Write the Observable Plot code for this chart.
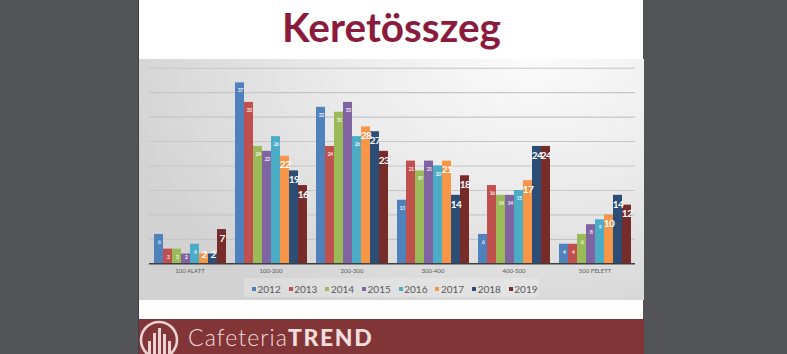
<!DOCTYPE html>
<html>
<head>
<meta charset="utf-8">
<script src="https://cdn.jsdelivr.net/npm/d3@7"></script>
<script src="https://cdn.jsdelivr.net/npm/@observablehq/plot@0.6"></script>
<style>
  html, body { margin: 0; padding: 0; }
  body { width: 787px; height: 354px; position: relative; overflow: hidden; background: #525457; font-family: Lato, "Open Sans", sans-serif; }
  #slide { position: absolute; left: 138px; top: 0; width: 505px; height: 354px; background: #ffffff; border-left: 1px solid #3e4042; box-sizing: border-box; }
  #title { position: absolute; left: 0; top: 5px; width: 505px; text-align: center; font-family: Lato, sans-serif; font-weight: 700; font-size: 40.5px; line-height: 44px; color: #8a1b3d; }
  #box { position: absolute; left: 0; top: 59px; width: 505px; height: 241px;
         background: radial-gradient(ellipse 85% 120% at 78% 0%, #fbfbfb 0%, #ebebeb 45%, #d2d2d2 100%); }
  #chart { position: absolute; left: 0; top: 0; }
  #chart svg g[aria-label="text"] text { letter-spacing: -0.6px; }
  #legend { position: absolute; left: 113px; top: 224px; height: 12px; display: flex; font-family: Lato, sans-serif; font-size: 10px; color: #595959; line-height: 12px; }
  #legend .item { width: 36.7px; display: flex; align-items: center; }
  #legend .sw { width: 4px; height: 4px; margin-right: 1.5px; }
  #legendbg { position: absolute; left: 105px; top: 219px; width: 295px; height: 19px; background: rgba(255,255,255,0.22); }
  #footer { position: absolute; left: 0; top: 319px; width: 505px; height: 35px; background: #813537; }
  #brand { position: absolute; left: 49px; top: 4px; color: #f2dcdc; font-size: 23px; line-height: 28px; white-space: nowrap; }
  #brand .l { font-weight: 300; letter-spacing: 1.1px; }
  #brand .b { font-weight: 900; letter-spacing: 1.6px; }
</style>
</head>
<body>
<div id="slide">
  <div id="title">Keretösszeg</div>
  <div id="box">
    <div id="legendbg"></div>
    <div id="chart"></div>
    <div id="legend"></div>
  </div>
  <div id="footer">
    <svg width="46" height="35" style="position:absolute;left:0;top:0">
      <circle cx="20" cy="21" r="18" fill="none" stroke="#ead2d2" stroke-width="2.6"/>
      <g fill="#ead2d2">
        <rect x="9" y="22" width="3" height="13"/>
        <rect x="14" y="14" width="3" height="21"/>
        <rect x="19" y="9" width="3" height="26"/>
        <rect x="24" y="15" width="3" height="20"/>
        <rect x="29" y="22" width="3" height="13"/>
      </g>
    </svg>
    <div id="brand"><span class="l">Cafeteria</span><span class="b">TREND</span></div>
  </div>
</div>
<script>
// ---- data ----
const categories = ["100 ALATT", "100-200", "200-300", "300-400", "400-500", "500 FELETT"];
const years = ["2012", "2013", "2014", "2015", "2016", "2017", "2018", "2019"];
const colors = ["#4F81BD", "#C0504D", "#9BBB59", "#8064A2", "#4BACC6", "#F79646", "#2C4D75", "#772C2A"];
const v2012 = [6, 37, 32, 13, 6, 4];
const v2013 = [3, 33, 24, 21, 16, 4];
const v2014 = [3, 24, 31, 19, 14, 6];
const v2015 = [2, 23, 33, 21, 14, 8];
const v2016 = [4, 26, 26, 20, 15, 9];
const v2017 = [2, 22, 28, 21, 17, 10];
const v2018 = [2, 19, 27, 14, 24, 14];
const v2019 = [7, 16, 23, 18, 24, 12];
const bigLabelYears = ["2017", "2018", "2019"];
const yTicks = [5, 10, 15, 20, 25, 30, 35, 40];

const series = [v2012, v2013, v2014, v2015, v2016, v2017, v2018, v2019];
const data = years.flatMap((yr, i) => categories.map((c, j) => ({cat: c, year: yr, value: series[i][j]})));
const small = data.filter(d => !bigLabelYears.includes(d.year));
const big = data.filter(d => bigLabelYears.includes(d.year));

const plot = Plot.plot({
  width: 505,
  height: 220,
  marginTop: 8.7,
  marginBottom: 15.7,
  marginLeft: 8,
  marginRight: 8,
  fx: {domain: categories, padding: 0, axis: "bottom", tickSize: 0, tickPadding: 5, label: null},
  x: {domain: years, paddingInner: 0, paddingOuter: 0.29, axis: null},
  y: {domain: [0, 40], axis: null},
  color: {domain: years, range: colors},
  style: {background: "transparent", fontFamily: "Lato, sans-serif", fontSize: "6px", color: "#5a5a5a", overflow: "visible"},
  marks: [
    Plot.ruleY(yTicks, {stroke: "#c6c6c6", strokeWidth: 1.1}),
    Plot.barY(data, {fx: "cat", x: "year", y: "value", fill: "year"}),
    Plot.ruleY([0], {stroke: "#3f3f3f", strokeWidth: 1.5}),
    Plot.text(small, {fx: "cat", x: "year", y: d => Math.max(d.value - 1.6, 1.25), text: d => String(d.value),
      fill: "white", fillOpacity: 0.85, fontSize: 5.5, fontWeight: 700}),
    Plot.text(big, {fx: "cat", x: "year", y: d => Math.max(d.value - 1.84, 1.9), text: d => String(d.value),
      fill: "white", fontSize: 10, fontWeight: 700})
  ]
});
document.getElementById("chart").appendChild(plot);

const legend = document.getElementById("legend");
years.forEach((yr, i) => {
  const item = document.createElement("div");
  item.className = "item";
  const sw = document.createElement("span");
  sw.className = "sw";
  sw.style.background = colors[i];
  const t = document.createElement("span");
  t.textContent = yr;
  item.appendChild(sw);
  item.appendChild(t);
  legend.appendChild(item);
});
</script>
</body>
</html>
